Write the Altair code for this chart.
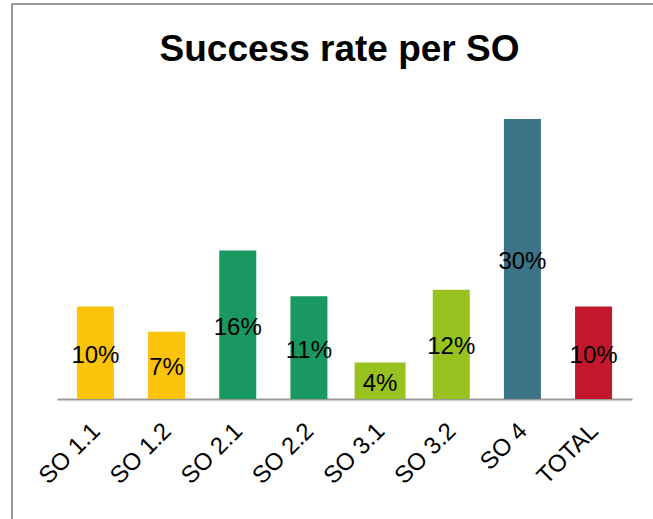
import altair as alt
import pandas as pd

categories = ["SO 1.1", "SO 1.2", "SO 2.1", "SO 2.2", "SO 3.1", "SO 3.2", "SO 4", "TOTAL"]
values = [0.099, 0.072, 0.159, 0.110, 0.039, 0.117, 0.300, 0.099]
labels = ["10%", "7%", "16%", "11%", "4%", "12%", "30%", "10%"]
colors = ["#FCC30B", "#FCC30B", "#1A9861", "#1A9861", "#98C21F", "#98C21F", "#3C7386", "#C1182E"]

df = pd.DataFrame({"cat": categories, "val": values, "label": labels, "color": colors})
df["half"] = df["val"] / 2

FONT = "Liberation Sans"

x_enc = alt.X("cat:N", sort=categories, title=None,
              scale=alt.Scale(paddingInner=0.48, paddingOuter=0.28),
              axis=alt.Axis(labelAngle=-45, labelFontSize=24, labelFont=FONT,
                            labelColor="black", labelAlign="right", labelBaseline="middle",
                            labelPadding=28, labelOffset=1, ticks=False, domainColor="#999999",
                            domainWidth=2, labelLimit=200))
y_scale = alt.Scale(domain=[0, 0.30])

border = alt.Chart(df).mark_rect(fill=None, stroke="#999999", strokeWidth=2, clip=False).encode(
    x=alt.value(-45), x2=alt.value(700), y=alt.value(-115), y2=alt.value(600)
)

bars_main = alt.Chart(df).transform_filter(alt.datum.cat != "SO 3.1").mark_bar().encode(
    x=x_enc,
    y=alt.Y("val:Q", scale=y_scale, axis=None),
    color=alt.Color("color:N", scale=None, legend=None),
)
bars_wide = alt.Chart(df).transform_filter(alt.datum.cat == "SO 3.1").mark_bar(width=51).encode(
    x=x_enc,
    y=alt.Y("val:Q", scale=y_scale, axis=None),
    color=alt.Color("color:N", scale=None, legend=None),
)
text = alt.Chart(df).mark_text(fontSize=24, font=FONT, color="black", baseline="middle", dy=3).encode(
    x=x_enc,
    y=alt.Y("half:Q", scale=y_scale, axis=None),
    text="label:N",
)

chart = alt.layer(border, bars_main, bars_wide, text).properties(
    width=575, height=280,
    autosize=alt.AutoSizeParams(type="none"),
    padding={"left": 57, "top": 119, "right": 21, "bottom": 120},
    title=alt.TitleParams("Success rate per SO", fontSize=37, font=FONT, fontWeight="bold",
                          color="black", anchor="middle", dx=-5, offset=0, dy=66),
).configure(background="white").configure_view(stroke=None)

chart.save("out.html", embed_options={"renderer": "svg", "actions": False})
